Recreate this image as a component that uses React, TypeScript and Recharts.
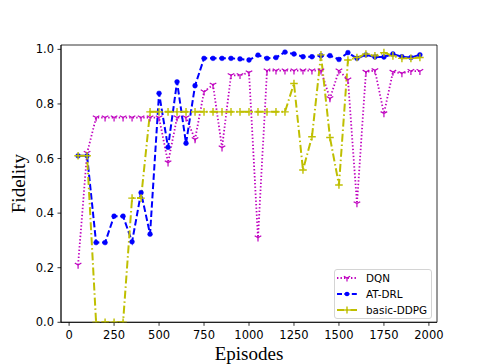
import React from 'react';
import { LineChart, Line, XAxis, YAxis, ReferenceArea, Legend, Label } from 'recharts';

const episodes = [50, 100, 150, 200, 250, 300, 350, 400, 450, 500, 550, 600, 650, 700, 750, 800, 850, 900, 950, 1000, 1050, 1100, 1150, 1200, 1250, 1300, 1350, 1400, 1450, 1500, 1550, 1600, 1650, 1700, 1750, 1800, 1850, 1900, 1950];

const dqnValues = [0.21, 0.62, 0.75, 0.75, 0.75, 0.75, 0.75, 0.75, 0.75, 0.75, 0.585, 0.75, 0.75, 0.67, 0.845, 0.87, 0.64, 0.905, 0.905, 0.915, 0.31, 0.922, 0.922, 0.922, 0.922, 0.922, 0.922, 0.922, 0.82, 0.922, 0.889, 0.435, 0.917, 0.923, 0.765, 0.917, 0.912, 0.92, 0.92];

const atdrlValues = [0.61, 0.61, 0.292, 0.292, 0.389, 0.389, 0.295, 0.475, 0.323, 0.839, 0.641, 0.881, 0.656, 0.867, 0.967, 0.967, 0.967, 0.967, 0.965, 0.961, 0.979, 0.967, 0.97, 0.99, 0.983, 0.973, 0.973, 0.977, 0.977, 0.963, 0.988, 0.967, 0.98, 0.972, 0.972, 0.983, 0.973, 0.97, 0.98];

const ddpgValues = [0.61, 0.61, 0, 0, 0, 0, 0.455, 0.455, 0.771, 0.771, 0.771, 0.771, 0.771, 0.771, 0.771, 0.771, 0.771, 0.771, 0.771, 0.771, 0.771, 0.771, 0.771, 0.771, 0.875, 0.558, 0.68, 0.98, 0.677, 0.503, 0.961, 0.97, 0.983, 0.976, 0.988, 0.976, 0.967, 0.967, 0.97];

const xTicks = [0, 250, 500, 750, 1000, 1250, 1500, 1750, 2000];
const yTicks = [0, 0.2, 0.4, 0.6, 0.8, 1.0];
const seriesNames = ['DQN', 'AT-DRL', 'basic-DDPG'];
const xLabel = 'Episodes';
const yLabel = 'Fidelity';

const MAG = '#bf00bf';
const BLUE = '#0000ff';
const YEL = '#bfbf00';

const data = episodes.map((e, i) => ({
  ep: e,
  dqn: dqnValues[i],
  atdrl: atdrlValues[i],
  ddpg: ddpgValues[i],
}));

const triShape = (cx: number, cy: number, r: number, color: string, key?: string) => (
  <g key={key} stroke={color} strokeWidth={1.2} fill="none">
    <line x1={cx} y1={cy} x2={cx} y2={cy + r} />
    <line x1={cx} y1={cy} x2={cx - r * 0.866} y2={cy - r * 0.5} />
    <line x1={cx} y1={cy} x2={cx + r * 0.866} y2={cy - r * 0.5} />
  </g>
);

const plusShape = (cx: number, cy: number, r: number, color: string, key?: string) => (
  <g key={key} stroke={color} strokeWidth={1.4} fill="none">
    <line x1={cx - r} y1={cy} x2={cx + r} y2={cy} />
    <line x1={cx} y1={cy - r} x2={cx} y2={cy + r} />
  </g>
);

const TriDot = (p: any) => {
  if (p.cx == null || p.cy == null) return <g key={`t${p.index}`} />;
  return triShape(p.cx, p.cy, 3.8, MAG, `t${p.index}`);
};
const PlusDot = (p: any) => {
  if (p.cx == null || p.cy == null) return <g key={`p${p.index}`} />;
  return plusShape(p.cx, p.cy, 3.8, YEL, `p${p.index}`);
};
const CircleDot = (p: any) => {
  if (p.cx == null || p.cy == null) return <g key={`c${p.index}`} />;
  return <circle key={`c${p.index}`} cx={p.cx} cy={p.cy} r={2.4} fill={BLUE} stroke={BLUE} strokeWidth={0.5} />;
};

const legendItems = [
  { name: seriesNames[0], color: MAG, dash: '1.4 2.1', marker: 'tri' },
  { name: seriesNames[1], color: BLUE, dash: '5 2.4', marker: 'circle' },
  { name: seriesNames[2], color: YEL, dash: '7 2.4 1.5 2.4', marker: 'plus' },
];

const renderLegend = () => (
  <div
    style={{
      boxSizing: 'border-box',
      width: 98,
      height: 50,
      border: '1px solid #d4d4d4',
      borderRadius: 3,
      background: 'rgba(255,255,255,0.8)',
      paddingTop: 0,
    }}
  >
    {legendItems.map((it) => (
      <div key={it.name} style={{ display: 'flex', alignItems: 'center', height: 16 }}>
        <svg width={20} height={16} style={{ marginLeft: 2, display: 'block' }}>
          <line x1={0} y1={8} x2={20} y2={8} stroke={it.color} strokeWidth={1.8} strokeDasharray={it.dash} />
          {it.marker === 'tri' && triShape(10, 8, 3.6, it.color)}
          {it.marker === 'circle' && <circle cx={10} cy={8} r={2.3} fill={it.color} />}
          {it.marker === 'plus' && plusShape(10, 8, 3.6, it.color)}
        </svg>
        <span
          style={{
            marginLeft: 9,
            fontFamily: 'DejaVu Sans',
            fontSize: 10.4,
            color: '#000',
            lineHeight: '16px',
            whiteSpace: 'nowrap',
          }}
        >
          {it.name}
        </span>
      </div>
    ))}
  </div>
);

const tickStyle = { fontFamily: 'DejaVu Sans', fontSize: 11.5, fill: '#000' };

export default function App() {
  return (
    <div style={{ position: 'absolute', left: 0, top: 0, width: 485, height: 364, background: '#fff' }}>
      <LineChart
        width={485}
        height={364}
        data={data}
        margin={{ top: 45, right: 48, bottom: 0, left: 0 }}
      >
        <ReferenceArea x1={-45} x2={2045} y1={0} y2={1.016} fill="none" stroke="#000" strokeWidth={0.8} strokeOpacity={1} fillOpacity={0} />
        <XAxis
          dataKey="ep"
          type="number"
          domain={[-45, 2045]}
          ticks={xTicks}
          height={41.7}
          tick={tickStyle}
          tickSize={3.5}
          tickMargin={5}
          axisLine={{ stroke: '#000', strokeWidth: 0.8 }}
          tickLine={{ stroke: '#000', strokeWidth: 0.8 }}
          allowDataOverflow
        >
          <Label
            content={(p: any) => {
              const vb = p.viewBox || { x: 61, width: 376 };
              return (
                <text x={vb.x + vb.width / 2} y={360} textAnchor="middle" fontFamily="Liberation Serif" fontSize={19} fill="#000">
                  {xLabel}
                </text>
              );
            }}
          />
        </XAxis>
        <YAxis
          type="number"
          domain={[0, 1.016]}
          ticks={yTicks}
          width={61}
          tick={tickStyle}
          tickSize={3.5}
          tickMargin={3.5}
          tickFormatter={(v: number) => v.toFixed(1)}
          axisLine={{ stroke: '#000', strokeWidth: 0.8 }}
          tickLine={{ stroke: '#000', strokeWidth: 0.8 }}
          allowDataOverflow
        >
          <Label
            content={(p: any) => {
              const vb = p.viewBox || { y: 45, height: 277.3 };
              const cy = vb.y + vb.height / 2;
              return (
                <text x={25} y={cy} transform={`rotate(-90, 25, ${cy})`} textAnchor="middle" fontFamily="Liberation Serif" fontSize={19} fill="#000">
                  {yLabel}
                </text>
              );
            }}
          />
        </YAxis>
        <Line
          dataKey="dqn"
          name={seriesNames[0]}
          stroke={MAG}
          strokeWidth={1.8}
          strokeDasharray="1.4 2.1"
          dot={TriDot}
          activeDot={false}
          isAnimationActive={false}
          type="linear"
        />
        <Line
          dataKey="atdrl"
          name={seriesNames[1]}
          stroke={BLUE}
          strokeWidth={2}
          strokeDasharray="6.5 2.8"
          dot={CircleDot}
          activeDot={false}
          isAnimationActive={false}
          type="linear"
        />
        <Line
          dataKey="ddpg"
          name={seriesNames[2]}
          stroke={YEL}
          strokeWidth={2}
          strokeDasharray="8 2.8 1.5 2.8"
          dot={PlusDot}
          activeDot={false}
          isAnimationActive={false}
          type="linear"
        />
        <Legend
          layout="vertical"
          align="center"
          verticalAlign="middle"
          content={renderLegend}
          wrapperStyle={{ left: 334, top: 268.7, width: 98, height: 50 }}
        />
      </LineChart>
    </div>
  );
}
